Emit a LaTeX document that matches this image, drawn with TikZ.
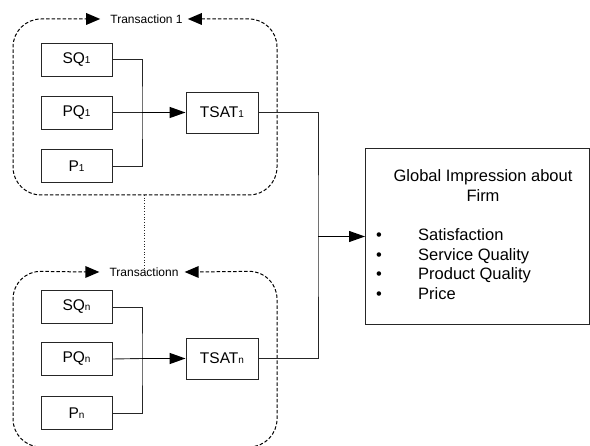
\documentclass[tikz,border=0pt]{standalone}
\usepackage{fontspec}
\setmainfont{Liberation Sans}
\usetikzlibrary{arrows.meta}

\tikzset{
  factor/.style={draw=black!85, line width=0.9pt, minimum width=71pt, minimum height=33pt,
    inner sep=0pt, font=\fontsize{15.5}{18}\selectfont},
  tsat/.style={factor, minimum width=72pt, minimum height=41pt},
  frame/.style={draw=black, line width=1pt, dash pattern=on 3.5pt off 2pt, rounded corners=28pt},
  frametip/.style={fill=black},
  framelabel/.style={inner sep=0pt, font=\fontsize{12}{14}\selectfont},
  link/.style={draw=black!85, line width=0.9pt},
  feed/.style={draw=black, line width=1.3pt, -{Triangle[length=16pt,width=11pt]}},
  txt/.style={inner sep=0pt, text height=12pt, text depth=3.5pt, font=\fontsize{16.5}{19}\selectfont},
}
\newcommand{\sbs}[1]{{\fontsize{10}{10}\selectfont #1}}

\begin{document}
\begin{tikzpicture}[x=1pt,y=-1pt]
\useasboundingbox (0,0) rectangle (590,446);
\begin{scope}
\clip (0,0) rectangle (590,446);

% transaction 1
\node[framelabel] (t1) at (146.5,19) {Transaction 1};
\coordinate (t1l) at ([xshift=-10pt]t1.west);
\coordinate (t1r) at ([xshift=5pt]t1.east);
\draw[frame] ([xshift=-12pt]t1l) -- (13,19) -- (13,195) -- (277,195) -- (277,19) -- ([xshift=12pt]t1r);
\fill[frametip] (t1l) -- ++(-14,-6) -- ++(0,12) -- cycle;
\fill[frametip] (t1r) -- ++(14,-6) -- ++(0,12) -- cycle;
\node[factor] (sq1) at (76.5,59.5) {SQ\sbs{1}};
\node[factor] (pq1) at (76.5,112.5) {PQ\sbs{1}};
\node[factor] (p1) at (76.5,166) {P\sbs{1}};
\node[tsat] (ts1) at (222,112.5) {TSAT\sbs{1}};
\coordinate (j1) at (142,112.5);
\draw[link] (sq1.east) -| (j1) |- (p1.east);
\draw[link] (pq1.east) -- (j1);
\draw[feed] (j1) -- (ts1.west);

% transaction n
\node[framelabel] (tn) at (144,272) {Transactionn};
\coordinate (tnl) at ([xshift=-10pt]tn.west);
\coordinate (tnr) at ([xshift=6pt]tn.east);
\draw[frame] ([xshift=-12pt]tnl) -- (13,271) -- (13,447) -- (277,447) -- (277,271) -- ([xshift=12pt]tnr);
\fill[frametip] (tnl) -- ++(-14,-6) -- ++(0,12) -- cycle;
\fill[frametip] (tnr) -- ++(14,-6) -- ++(0,12) -- cycle;
\node[factor] (sqn) at (76.5,307) {SQ\sbs{n}};
\node[factor] (pqn) at (76.5,359) {PQ\sbs{n}};
\node[factor] (pn) at (76.5,413) {P\sbs{n}};
\node[tsat] (tsn) at (222,358.5) {TSAT\sbs{n}};
\coordinate (jn) at (142,358.5);
\draw[link] (sqn.east) -| (jn) |- (pn.east);
\draw[link] (pqn.east) -- (jn);
\draw[feed] (jn) -- (tsn.west);

% dotted link between the transactions
\coordinate (d1) at (144,195);
\coordinate (d2) at (144,268);
\draw[black!85, line width=0.7pt, dotted] (d1) -- (d2);

% global impression
\node[draw=black!85, line width=0.9pt, minimum width=224pt, minimum height=176pt,
  anchor=north west, inner sep=0pt] (firm) at (365,148) {};
\node[txt] (g1) at (483,177) {Global Impression about};
\node[txt] (g2) at (483,197) {Firm};
\foreach \y/\t [count=\i] in {236.5/Satisfaction, 256/Service Quality, 275.5/Product Quality, 295.5/Price}{
  \node[txt] (b\i) at (379,\y) {•};
  \node[txt, anchor=west] (i\i) at (418,\y) {\t};
}

% outputs into the global impression
\coordinate (m) at (318,236.5);
\draw[link] (ts1.east) -| (m) |- (tsn.east);
\draw[feed, line width=1pt] (m) -- (m -| firm.west);
\end{scope}
\end{tikzpicture}
\end{document}
